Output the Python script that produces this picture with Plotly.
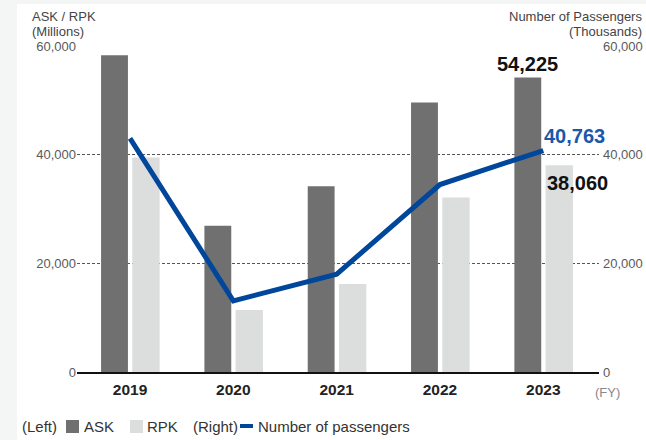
import plotly.graph_objects as go

# Fiscal years and traffic figures
years = ["2019", "2020", "2021", "2022", "2023"]
ask = [58300, 26900, 34200, 49600, 54225]        # millions (left axis)
rpk = [39500, 11400, 16200, 32100, 38060]        # millions (left axis)
passengers = [43000, 13100, 18000, 34500, 40763]  # thousands (right axis)

left_ticks = [0, 20000, 40000, 60000]
tick_text = ["0", "20,000", "40,000", "60,000"]

ASK_COLOR = "#707070"
RPK_COLOR = "#dcdddd"
LINE_COLOR = "#00469b"
FONT = "Liberation Sans, Arial, sans-serif"

W, H = 646, 440
ML, MR, MT, MB = 77, 47, 46, 68
PW, PH = W - ML - MR, H - MT - MB


def px(x):
    """pixel column -> paper x"""
    return (x - ML) / PW


def py(y):
    """pixel row -> paper y"""
    return (H - MB - y) / PH


fig = go.Figure()
fig.add_trace(go.Bar(x=years, y=ask, name="ASK", marker_color=ASK_COLOR,
                     marker_line_width=0, width=0.26, offset=-0.28))
fig.add_trace(go.Bar(x=years, y=rpk, name="RPK", marker_color=RPK_COLOR,
                     marker_line_width=0, width=0.265, offset=0.022))
fig.add_trace(go.Scatter(x=years, y=passengers, yaxis="y2", mode="lines",
                         name="Number of passengers",
                         line=dict(color=LINE_COLOR, width=5)))

tick_font = dict(family=FONT, size=13, color="#5a5a5a")

fig.update_layout(
    width=W, height=H,
    margin=dict(l=ML, r=MR, t=MT, b=MB, autoexpand=False),
    paper_bgcolor="#f4f6f6", plot_bgcolor="rgba(0,0,0,0)",
    barmode="overlay", showlegend=False,
    font=dict(family=FONT, color="#333333"),
    xaxis=dict(type="category", range=[-0.513, 4.539], showgrid=False, automargin=False,
               showline=True, linecolor="#111111", linewidth=1.5, ticks="",
               ticklabelstandoff=3,
               tickfont=dict(family=FONT, size=15.5, color="#222222", weight="bold")),
    yaxis=dict(showgrid=True, gridcolor="#555555", gridwidth=1, griddash="3px,2px",
               zeroline=False, range=[0, 60000], tickvals=left_ticks, automargin=False,
               ticktext=tick_text, ticks="", tickfont=tick_font),
    yaxis2=dict(overlaying="y", side="right", showgrid=False, zeroline=False,
                range=[0, 60000], tickvals=left_ticks, ticktext=tick_text, ticks="",
                automargin=False, ticklabelstandoff=3, tickfont=tick_font),
)

# white canvas with a thin grey strip on the left and top
fig.add_shape(type="rect", xref="paper", yref="paper", layer="below",
              x0=px(17), x1=px(W + 2), y0=py(H + 2), y1=py(4),
              fillcolor="white", line_width=0)

# axis titles and the fiscal-year marker
titles = [("ASK / RPK", 30, 16.5, "left"), ("(Millions)", 30, 31, "left"),
          ("Number of Passengers", 644, 16.5, "right"), ("(Thousands)", 644, 31, "right")]
for txt, x0, y0, anchor in titles:
    fig.add_annotation(text=txt, x=px(x0), y=py(y0), xref="paper", yref="paper",
                       xanchor=anchor, yanchor="middle", showarrow=False,
                       font=dict(size=13, color="#444444"))
fig.add_annotation(text="(FY)", x=px(607), y=py(392), xref="paper", yref="paper",
                   xanchor="center", yanchor="middle", showarrow=False,
                   font=dict(size=13, color="#888888"))

# value labels for the latest year
last = len(years) - 1
fig.add_annotation(x=last, y=ask[last], text=f"{ask[last]:,}", showarrow=False,
                   xshift=-15.5, yanchor="bottom", yshift=0,
                   font=dict(size=20, color="#111111", weight="bold"))
fig.add_annotation(x=last, y=passengers[last], yref="y2", text=f"{passengers[last]:,}",
                   showarrow=False, xanchor="left", xshift=-1, yanchor="bottom", yshift=2,
                   font=dict(size=20, color="#1a58aa", weight="bold"))
fig.add_annotation(x=last, y=rpk[last], text=f"{rpk[last]:,}", showarrow=False,
                   xanchor="left", xshift=2, yanchor="top", yshift=-5,
                   font=dict(size=20, color="#111111", weight="bold"))

# legend row
ly = 426
legend_text = [("(Left)", 20), ("ASK", 82), ("RPK", 145), ("(Right)", 191),
               ("Number of passengers", 256)]
for txt, x0 in legend_text:
    fig.add_annotation(text=txt, x=px(x0), y=py(ly), xref="paper", yref="paper",
                       xanchor="left", yanchor="middle", showarrow=False,
                       font=dict(size=15, color="#333333"))
fig.add_shape(type="rect", xref="paper", yref="paper", x0=px(66), x1=px(79),
              y0=py(ly + 7), y1=py(ly - 6), fillcolor=ASK_COLOR, line_width=0)
fig.add_shape(type="rect", xref="paper", yref="paper", x0=px(130), x1=px(143),
              y0=py(ly + 7), y1=py(ly - 6), fillcolor=RPK_COLOR, line_width=0)
fig.add_shape(type="line", xref="paper", yref="paper", x0=px(240), x1=px(253),
              y0=py(ly), y1=py(ly), line=dict(color=LINE_COLOR, width=4))

fig.write_html("out.html")
